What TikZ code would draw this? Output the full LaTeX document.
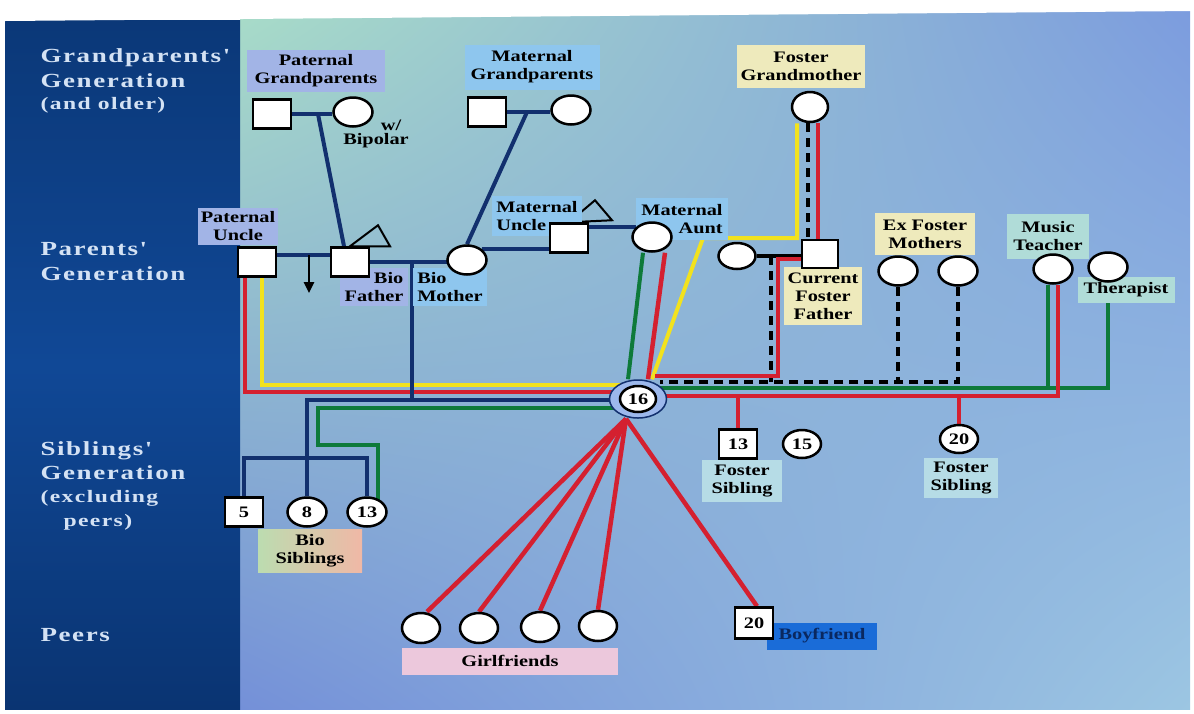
\documentclass[tikz,border=0pt]{standalone}
\usepackage{fontspec}
\setmainfont{Liberation Serif}
\newfontfamily\lblf[FakeStretch=1.27]{Liberation Serif}
\newfontfamily\sidef[FakeStretch=1.35,LetterSpace=8]{Liberation Serif}
\usetikzlibrary{shapes.geometric,arrows.meta,shadings}
\pgfdeclarelayer{back}
\pgfdeclarelayer{lines}
\pgfsetlayers{back,lines,main}
\definecolor{navyl}{HTML}{12306E}
\definecolor{redl}{HTML}{D42030}
\definecolor{grnl}{HTML}{0E7A3A}
\definecolor{yell}{HTML}{F2E21E}
\definecolor{sidec}{HTML}{D4E2F4}
\definecolor{bgul}{HTML}{A8DCC8}
\definecolor{bgur}{HTML}{7C9CDE}
\definecolor{bgll}{HTML}{7490D8}
\definecolor{bglr}{HTML}{9CC6E2}
\definecolor{pnlt}{HTML}{0B3878}
\definecolor{pnlm}{HTML}{104896}
\definecolor{pnlb}{HTML}{0A3472}
\definecolor{lpurp}{HTML}{A2B4E6}
\definecolor{lsky}{HTML}{8EC6EE}
\definecolor{lyel}{HTML}{EEEABC}
\definecolor{lteal}{HTML}{B0DCD8}
\definecolor{lfs}{HTML}{B6DCE6}
\definecolor{lpink}{HTML}{ECC8DC}
\definecolor{bfblue}{HTML}{1A6CD8}
\definecolor{bftext}{HTML}{0A2860}
\definecolor{ring}{HTML}{9CB8EC}
\definecolor{peach}{HTML}{F0B8A6}
\definecolor{sage}{HTML}{BCDCB0}
\begin{document}
\begin{tikzpicture}[x=1pt,y=-1pt,
  lblfont/.style={font=\lblf\bfseries\fontsize{16}{18}\selectfont},
  sq/.style={rectangle,draw=black,line width=2.5pt,fill=white,minimum width=38pt,minimum height=29pt,inner sep=0pt,lblfont},
  ci/.style={ellipse,draw=black,line width=2.5pt,fill=white,minimum width=39pt,minimum height=29pt,inner sep=0pt,lblfont},
  lab/.style={rectangle,inner sep=0pt,align=center,text=black,lblfont},
  side/.style={anchor=base west,text=sidec,font=\sidef\bfseries\fontsize{20}{24}\selectfont},
  sidesm/.style={anchor=base west,text=sidec,font=\sidef\bfseries\fontsize{17.5}{24}\selectfont},
  nv/.style={navyl,line width=4pt},
  rd/.style={redl,line width=4.5pt},
  gn/.style={grnl,line width=4pt},
  yl/.style={yell,line width=4pt},
  bd/.style={black,line width=4pt,dash pattern=on 9pt off 6pt},
  tri/.style={black,line width=2pt,line join=miter}
]
\useasboundingbox (0,0) rectangle (1194,713);
\begin{pgfonlayer}{back}
\fill[white] (0,0) rectangle (1194,713);
\shade[upper left=bgul,upper right=bgur,lower left=bgll,lower right=bglr] (240,10) rectangle (1190,709);
\shade[top color=pnlt,bottom color=pnlb,middle color=pnlm] (5,20) rectangle (240,709);
\fill[white] (0,0) -- (1194,0) -- (1194,11) -- (5,21) -- (0,21) -- cycle;
\end{pgfonlayer}

% side panel text
\node[side] (sA) at (37,62) {Grandparents'};
\node[side] (sB) at (37,87) {Generation};
\node[sidesm] (sC) at (37,109) {(and older)};
\node[side] (sD) at (37,255) {Parents'};
\node[side] (sE) at (37,280) {Generation};
\node[side] (sF) at (37,455) {Siblings'};
\node[side] (sG) at (37,479) {Generation};
\node[sidesm] (sH) at (37,502) {(excluding};
\node[sidesm] (sI) at (60,526) {peers)};
\node[side] (sJ) at (37,641) {Peers};

% label boxes
\node[lab,fill=lpurp,minimum width=138pt,minimum height=42pt] (pgl) at (316,71) {Paternal\\Grandparents};
\node[lab,fill=lsky,minimum width=135pt,minimum height=45pt] (mgl) at (532,67) {Maternal\\Grandparents};
\node[lab,fill=lyel,minimum width=128pt,minimum height=43pt] (fgl) at (801,66) {Foster\\Grandmother};
\node[lab,fill=lpurp,minimum width=80pt,minimum height=37pt] (pul) at (238,226) {Paternal\\Uncle};
\node[lab,fill=lpurp,minimum width=68pt,minimum height=38pt,align=right] (bfl) at (374,287) {Bio\\Father};
\node[lab,fill=lsky,minimum width=74pt,minimum height=38pt,align=left] (bml) at (450,287) {Bio\\Mother};
\node[lab,fill=lsky,minimum width=90pt,minimum height=40pt,align=left] (mul) at (537,216) {Maternal\\Uncle};
\node[lab,fill=lsky,minimum width=92pt,minimum height=42pt,align=right] (mal) at (682,219) {Maternal\\Aunt};
\node[lab,fill=lyel,minimum width=78pt,minimum height=58pt] (cffl) at (823,296) {Current\\Foster\\Father};
\node[lab,fill=lyel,minimum width=100pt,minimum height=42pt] (exl) at (925,234) {Ex Foster\\Mothers};
\node[lab,fill=lteal,minimum width=82pt,minimum height=45pt] (mtl) at (1048,236) {Music\\Teacher};
\node[lab,fill=lteal,minimum width=97pt,minimum height=26pt] (thl) at (1126,290) {Therapist};
\node[lab,fill=lfs,minimum width=80pt,minimum height=42pt] (fsl1) at (742,481) {Foster\\Sibling};
\node[lab,fill=lfs,minimum width=74pt,minimum height=40pt] (fsl2) at (961,478) {Foster\\Sibling};
\node[lab,left color=sage,right color=peach,minimum width=104pt,minimum height=43pt] (bsl) at (310,551) {Bio\\Siblings};
\node[lab,fill=lpink,minimum width=216pt,minimum height=27pt] (gfl) at (510,661) {Girlfriends};
\node[lab,fill=bfblue,text=bftext,minimum width=110pt,minimum height=27pt] (bfl2) at (822,636) {Boyfriend};
\node[lab] (wl) at (391,125) {w/};
\node[lab] (bipl) at (376,141) {Bipolar};

% people
\node[sq] (pgf) at (272,114) {};
\node[ci] (pgm) at (353,112) {};
\node[sq] (mgf) at (487,112) {};
\node[ci] (mgm) at (571,110) {};
\node[ci,minimum width=36pt,minimum height=30pt] (fgm) at (810,107) {};
\node[sq] (puncle) at (257,262) {};
\node[sq] (biofa) at (350,262) {};
\node[ci] (biomo) at (467,260) {};
\node[sq] (muncle) at (569,238) {};
\node[ci] (maunt) at (652,237) {};
\node[ci,minimum width=37pt,minimum height=26pt] (fmo) at (737,256) {};
\node[sq,minimum width=36pt,minimum height=28pt] (ffa) at (820,254) {};
\node[ci] (exfm1) at (898,271) {};
\node[ci] (exfm2) at (958,271) {};
\node[ci] (music) at (1053,269) {};
\node[ci] (thera) at (1108,267) {};
\node[ellipse,fill=ring,draw=navyl,line width=1.5pt,minimum width=57pt,minimum height=38pt] (n16o) at (638,399) {};
\node[ci,minimum width=36pt,minimum height=26pt] (n16) at (638,399) {16};
\node[sq] (sib5) at (244,512) {5};
\node[ci] (sib8) at (307,512) {8};
\node[ci] (sib13) at (367,512) {13};
\node[sq] (fs13) at (738,444) {13};
\node[ci,minimum width=38pt,minimum height=28pt] (fs15) at (802,444) {15};
\node[ci,minimum width=38pt,minimum height=28pt] (fs20) at (959,439) {20};
\node[ci,minimum width=38pt,minimum height=30pt] (gf1) at (421,628) {};
\node[ci,minimum width=38pt,minimum height=30pt] (gf2) at (479,628) {};
\node[ci,minimum width=38pt,minimum height=30pt] (gf3) at (540,627) {};
\node[ci,minimum width=38pt,minimum height=30pt] (gf4) at (598,626) {};
\node[sq,minimum height=31pt] (bf) at (754,623) {20};

\begin{pgfonlayer}{lines}
% navy family lines
\coordinate (pgc) at (318,114);
\coordinate (mgc) at (527,112);
\coordinate (bk) at (412,262);
\coordinate (bt) at (307,400);
\coordinate (sb) at (307,458);
\draw[nv] (pgf.east) -- (pgf.east -| pgm.west);
\draw[nv] (mgf.east) -- (mgf.east -| mgm.west);
\draw[nv] (pgc) -- ([xshift=-6pt]biofa.north);
\draw[nv] (mgc) -- (biomo.north);
\draw[nv] ([yshift=7pt]puncle.east) -- ([yshift=7pt]biofa.west);
\draw[nv] (biofa.east) -- (biofa.east -| biomo.center);
\draw[nv] (biomo.north east) -- (biomo.north east -| muncle.west);
\draw[nv] ([yshift=11pt]muncle.east) -- ([yshift=11pt]muncle.east -| maunt.center);
\draw[nv] (bt -| n16.center) -- (bt) -- (sib8.north);
\draw[nv] (sib5.north) |- (sb) -| (sib13.north);
% triangles and arrow
\draw[tri] (biofa.north) -- ++(28,-21) -- ++(12,21) -- cycle;
\draw[tri] (muncle.north) -- ++(26,-22) -- ++(17,20) -- cycle;
\coordinate (arT) at (309,255);
\coordinate (arB) at (309,293);
\draw[black,line width=2.5pt,-{Triangle[length=11pt,width=10pt]}] (arT) -- (arB);
% black
\coordinate (cd) at (771,256);
\coordinate (dh) at (958,382);
\draw[black,line width=4pt] (fmo.east) -- (fmo.east -| ffa.west);
\draw[bd] ([xshift=-2pt]fgm.south) -- ([xshift=-2pt]fgm.south |- ffa.north);
\draw[bd] (cd) -- (cd |- dh);
\draw[bd] (exfm2.south) |- ([xshift=22pt,yshift=17pt]n16.center);
\draw[bd] (exfm1.south) -- (exfm1.south |- dh);
% yellow
\coordinate (yc) at (703,238);
\draw[yl] ([xshift=5pt]puncle.south) |- ([yshift=14pt]n16.center);
\draw[yl] ([xshift=-13pt]fgm.south) |- (yc) -- ([xshift=14pt]n16o.north);
% green
\coordinate (gA) at (318,408);
\coordinate (gB) at (378,445);
\coordinate (gr) at (1108,388);
\draw[gn] (gA -| n16.center) -- (gA) |- (gB) -- (gB |- sib13.center);
\draw[gn] ([xshift=-9pt]maunt.south) -- ([xshift=-10pt]n16o.north);
\draw[gn] (gr -| n16.center) -- (gr) -- (gr |- thl.south);
\draw[gn] ([xshift=-5pt]music.south) -- ([xshift=-5pt]music.south |- gr);
% red
\coordinate (rf) at (778,376);
\coordinate (rr) at (700,396);
\coordinate (n16ne) at ([xshift=17pt]n16o.north);
\draw[rd] ([xshift=-12pt]puncle.south) |- ([yshift=7pt]n16.center);
\draw[rd] ([xshift=13pt]maunt.south) -- ([xshift=10pt]n16o.north);
\draw[rd] ([xshift=8pt]fgm.south) -- ([xshift=8pt]fgm.south |- ffa.north);
\draw[rd] ([yshift=-5pt]ffa.west) -| (rf) -- (rf -| n16ne);
\draw[rd] ([yshift=3pt]n16.center) -| ([xshift=5pt]music.south);
\draw[rd] (fs13.north |- rr) -- (fs13.north);
\draw[rd] (fs20.north |- rr) -- (fs20.north);
\draw[rd] ([xshift=-12pt]n16o.south) -- ([xshift=6pt]gf1.north);
\draw[rd] ([xshift=-12pt]n16o.south) -- (gf2.north);
\draw[rd] ([xshift=-12pt]n16o.south) -- (gf3.north);
\draw[rd] ([xshift=-12pt]n16o.south) -- (gf4.north);
\draw[rd] ([xshift=-12pt]n16o.south) -- ([xshift=3pt]bf.north);
% navy bio-parent drop drawn over yellow/red
\draw[nv] (bk) -- (bk |- bt);
\end{pgfonlayer}
\end{tikzpicture}
\end{document}
